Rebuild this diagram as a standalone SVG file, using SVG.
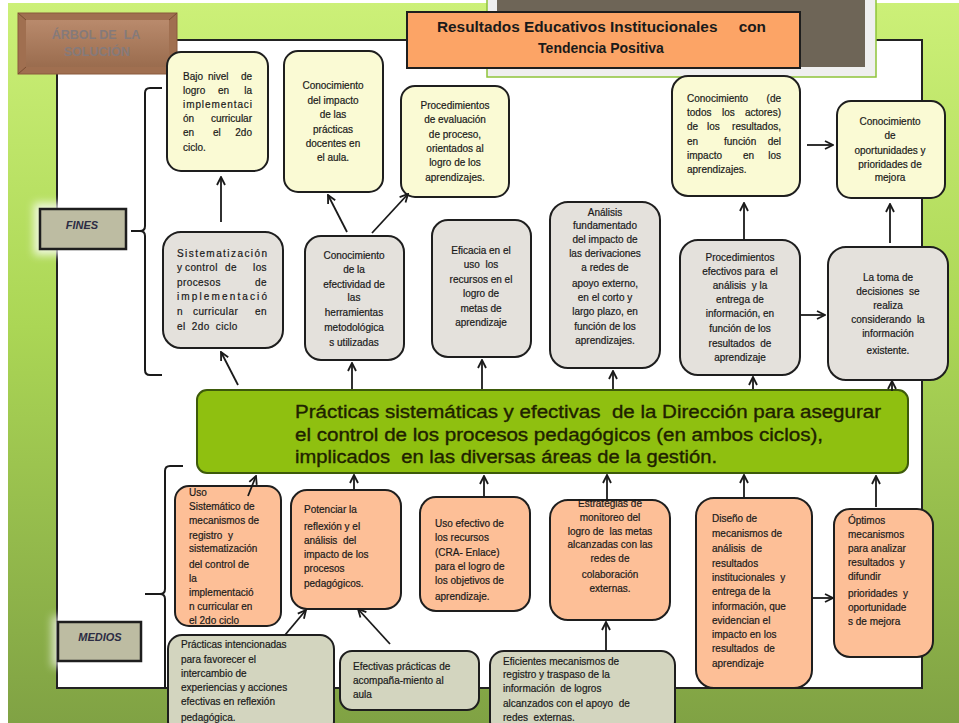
<svg xmlns="http://www.w3.org/2000/svg" width="959" height="723" viewBox="0 0 959 723">
<defs>
<linearGradient id="bg" x1="0" y1="0" x2="0" y2="1">
<stop offset="0" stop-color="#ccf078"/>
<stop offset="0.45" stop-color="#abd655"/>
<stop offset="1" stop-color="#80a244"/>
</linearGradient>
<linearGradient id="brn" x1="0" y1="0" x2="0" y2="1">
<stop offset="0" stop-color="#b98a6c"/>
<stop offset="1" stop-color="#9a6c4e"/>
</linearGradient>
<filter id="glow" x="-30%" y="-50%" width="160%" height="200%"><feGaussianBlur stdDeviation="4"/></filter>
<marker id="ah" viewBox="0 0 10 10" refX="9" refY="5" markerWidth="10" markerHeight="10" markerUnits="userSpaceOnUse" orient="auto">
<path d="M1,1 L9,5 L1,9" fill="none" stroke="#1a1a1a" stroke-width="1.8"/>
</marker>
<style>
.t{font-family:"Liberation Sans",Arial,sans-serif;font-size:10px;fill:#1a1a1a;stroke:#1a1a1a;stroke-width:0.2}
.c{text-anchor:middle}
.e{text-anchor:end}
.w{letter-spacing:0.4px}
.bx{stroke:#1e1e1e;stroke-width:2}
.yel{fill:#fafad4}
.gry{fill:#e4e1dc}
.sal{fill:#fdbf97}
.olv{fill:#d3d5bf}
.cn{fill:none;stroke:#1a1a1a;stroke-width:2}
.ar{fill:none;stroke:#1a1a1a;stroke-width:1.8;marker-end:url(#ah)}
.lbl{fill:#bdbca2;stroke:#1e1e1e;stroke-width:2.5}
.lt{font-family:"Liberation Sans",Arial,sans-serif;font-size:11px;font-weight:bold;font-style:italic;fill:#2c2c44;text-anchor:middle}
.gt{font-family:"Liberation Sans",Arial,sans-serif;font-size:17.5px;fill:#1f2200;stroke:#1f2200;stroke-width:0.35}
</style>
</defs>

<!-- background -->
<rect x="0" y="0" width="959" height="723" fill="#ffffff"/>
<rect x="8" y="3" width="951" height="720" fill="url(#bg)"/>
<rect x="57" y="40" width="865" height="648" fill="#ffffff" stroke="#222" stroke-width="2"/>

<!-- top frame -->
<rect x="487" y="-2" width="389" height="79" fill="#efefef" stroke="#8fc43a" stroke-width="1.5"/>
<rect x="497" y="0" width="368" height="67" fill="#6e6557"/>

<g id="title">
<rect x="407" y="12" width="393" height="56" fill="#fca466" stroke="#1e1e1e" stroke-width="2"/>
<text x="437" y="32" font-family="Liberation Sans,Arial,sans-serif" font-size="14" font-weight="bold" fill="#1a1a1a" textLength="329" lengthAdjust="spacingAndGlyphs" xml:space="preserve">Resultados Educativos Institucionales     con</text>
<text x="601" y="53" font-family="Liberation Sans,Arial,sans-serif" font-size="14" font-weight="bold" fill="#1a1a1a" text-anchor="middle">Tendencia Positiva</text>
</g>

<g id="arbol">
<rect x="18" y="13" width="159" height="61" fill="#a06f50" stroke="#8a5a3c" stroke-width="1"/>
<rect x="26" y="20" width="143" height="47" fill="url(#brn)"/>
<path d="M18,13 L26,20 M177,13 L169,20 M18,74 L26,67 M177,74 L169,67" stroke="#7a4e33" stroke-width="1"/>
<text x="96" y="39" font-family="Liberation Sans,Arial,sans-serif" font-size="12.5" font-weight="bold" fill="#857a7a" text-anchor="middle" xml:space="preserve">ÁRBOL DE  LA</text>
<text x="97" y="56" font-family="Liberation Sans,Arial,sans-serif" font-size="12.5" font-weight="bold" fill="#857a7a" text-anchor="middle">SOLUCIÓN</text>
</g>

<g id="fines">
<rect x="34" y="203" width="98" height="52" fill="#ffffff" opacity="0.8" filter="url(#glow)"/>
<rect x="40" y="209" width="86" height="40" class="lbl"/>
<text x="82" y="229" class="lt">FINES</text>
</g>
<g id="medios">
<rect x="52" y="616" width="95" height="51" fill="#ffffff" opacity="0.7" filter="url(#glow)"/>
<rect x="58" y="622" width="83" height="39" class="lbl"/>
<text x="100" y="641" class="lt">MEDIOS</text>
</g>

<!-- braces -->
<g id="braces">
<path class="cn" d="M162,88 L150,88 Q145,88 145,93 L145,226 Q145,231 140,231 L131,231 M140,231 Q145,231 145,236 L145,370 Q145,375 150,375 L162,375"/>
<path class="cn" d="M183,466 L170,466 Q165,466 165,471 L165,589 Q165,594 160,594 L145,594 M160,594 Q165,594 165,599 L165,688"/>
</g>

<!-- central green -->
<g id="centro">
<rect x="197" y="390" width="711" height="83" rx="10" fill="#8fc010" stroke="#3d5a0a" stroke-width="2"/>
<text class="gt" x="295" y="418" textLength="586" lengthAdjust="spacingAndGlyphs" xml:space="preserve">Prácticas sistemáticas y efectivas  de la Dirección para asegurar</text>
<text class="gt" x="295" y="441" textLength="528" lengthAdjust="spacingAndGlyphs">el control de los procesos pedagógicos (en ambos ciclos),</text>
<text class="gt" x="295" y="463" textLength="422" lengthAdjust="spacingAndGlyphs" xml:space="preserve">implicados  en las diversas áreas de la gestión.</text>
</g>

<!-- top row (yellow) -->
<g id="n1">
<rect x="167" y="52" width="101" height="119" rx="14" class="bx yel"/>
<text class="t" x="183" y="80">Bajo</text><text class="t" x="208" y="80">nivel</text><text class="t e" x="252" y="80">de</text>
<text class="t" x="183" y="94">logro</text><text class="t" x="218" y="94">en</text><text class="t e" x="252" y="94">la</text>
<text class="t" x="183" y="108" textLength="69" lengthAdjust="spacing">implementaci</text>
<text class="t" x="183" y="122">ón</text><text class="t e" x="252" y="122">curricular</text>
<text class="t" x="183" y="136">en</text><text class="t" x="213" y="136">el</text><text class="t e" x="252" y="136">2do</text>
<text class="t" x="183" y="151">ciclo.</text>
</g>
<g id="n2">
<rect x="284" y="51" width="99" height="141" rx="14" class="bx yel"/>
<text class="t c" x="333" y="89">Conocimiento</text>
<text class="t c" x="333" y="103.5">del impacto</text>
<text class="t c" x="333" y="118">de las</text>
<text class="t c" x="333" y="132.5">prácticas</text>
<text class="t c" x="333" y="147">docentes en</text>
<text class="t c" x="333" y="161">el aula.</text>
</g>
<g id="n3">
<rect x="401" y="86" width="108" height="111" rx="14" class="bx yel"/>
<text class="t c" x="455" y="108.5">Procedimientos</text>
<text class="t c" x="455" y="123">de evaluación</text>
<text class="t c" x="455" y="137.5">de proceso,</text>
<text class="t c" x="455" y="151.5">orientados al</text>
<text class="t c" x="455" y="166">logro de los</text>
<text class="t c" x="455" y="180.5">aprendizajes.</text>
</g>
<g id="n4">
<rect x="672" y="76" width="128" height="120" rx="16" class="bx yel"/>
<text class="t" x="687" y="101.5">Conocimiento</text><text class="t e" x="781" y="101.5">(de</text>
<text class="t" x="687" y="116">todos</text><text class="t" x="722" y="116">los</text><text class="t e" x="781" y="116">actores)</text>
<text class="t" x="687" y="130">de</text><text class="t" x="707" y="130">los</text><text class="t e" x="781" y="130">resultados,</text>
<text class="t" x="687" y="144.5">en</text><text class="t" x="724" y="144.5">función</text><text class="t e" x="781" y="144.5">del</text>
<text class="t" x="687" y="158.5">impacto</text><text class="t" x="743" y="158.5">en</text><text class="t e" x="781" y="158.5">los</text>
<text class="t" x="687" y="173">aprendizajes.</text>
</g>
<g id="n5">
<rect x="837" y="101" width="108" height="97" rx="14" class="bx yel"/>
<text class="t c" x="890" y="124.5">Conocimiento</text>
<text class="t c" x="890" y="139">de</text>
<text class="t c" x="890" y="153.5">oportunidades y</text>
<text class="t c" x="890" y="167.5">prioridades de</text>
<text class="t c" x="890" y="181">mejora</text>
</g>

<!-- second row (gray) -->
<g id="n6">
<rect x="163" y="232" width="120" height="116" rx="18" class="bx gry"/>
<text class="t" x="177" y="257" textLength="90" lengthAdjust="spacing">Sistematización</text>
<text class="t w" x="177" y="271">y</text><text class="t w" x="185" y="271">control</text><text class="t w" x="225" y="271">de</text><text class="t w e" x="267" y="271">los</text>
<text class="t w" x="177" y="285.5">procesos</text><text class="t w e" x="267" y="285.5">de</text>
<text class="t" x="177" y="300" textLength="90" lengthAdjust="spacing">implementació</text>
<text class="t w" x="177" y="315">n</text><text class="t w" x="193" y="315">curricular</text><text class="t w e" x="267" y="315">en</text>
<text class="t w" x="177" y="329.5" word-spacing="3">el 2do ciclo</text>
</g>
<g id="n7">
<rect x="305" y="236" width="99" height="124" rx="16" class="bx gry"/>
<text class="t c" x="354" y="258.5">Conocimiento</text>
<text class="t c" x="354" y="272.5">de la</text>
<text class="t c" x="354" y="287.5">efectividad de</text>
<text class="t c" x="354" y="301">las</text>
<text class="t c" x="354" y="315.5">herramientas</text>
<text class="t c" x="354" y="330.5">metodológica</text>
<text class="t c" x="354" y="345.5">s utilizadas</text>
</g>
<g id="n8">
<rect x="432" y="220" width="99" height="137" rx="16" class="bx gry"/>
<text class="t c" x="481" y="253.5">Eficacia en el</text>
<text class="t c" x="481" y="268" xml:space="preserve">uso  los</text>
<text class="t c" x="481" y="282.5">recursos en el</text>
<text class="t c" x="481" y="297">logro de</text>
<text class="t c" x="481" y="311.5">metas de</text>
<text class="t c" x="481" y="325.5">aprendizaje</text>
</g>
<g id="n9">
<rect x="550" y="202" width="110" height="166" rx="18" class="bx gry"/>
<text class="t c" x="605" y="215.5">Análisis</text>
<text class="t c" x="605" y="229">fundamentado</text>
<text class="t c" x="605" y="243">del impacto de</text>
<text class="t c" x="605" y="257">las derivaciones</text>
<text class="t c" x="605" y="271">a redes de</text>
<text class="t c" x="605" y="287">apoyo externo,</text>
<text class="t c" x="605" y="301">en el corto y</text>
<text class="t c" x="605" y="315">largo plazo, en</text>
<text class="t c" x="605" y="329.5">función de los</text>
<text class="t c" x="605" y="343.5">aprendizajes.</text>
</g>
<g id="n10">
<rect x="680" y="240" width="120" height="135" rx="18" class="bx gry"/>
<text class="t c" x="740" y="260.5">Procedimientos</text>
<text class="t c" x="740" y="275" xml:space="preserve">efectivos para  el</text>
<text class="t c" x="740" y="289" xml:space="preserve">análisis  y la</text>
<text class="t c" x="740" y="303">entrega de</text>
<text class="t c" x="740" y="317">información, en</text>
<text class="t c" x="740" y="332">función de los</text>
<text class="t c" x="740" y="346.5" xml:space="preserve">resultados  de</text>
<text class="t c" x="740" y="360.5">aprendizaje</text>
</g>
<g id="n11">
<rect x="828" y="247" width="120" height="133" rx="18" class="bx gry"/>
<text class="t c" x="888" y="280.5">La toma de</text>
<text class="t c" x="888" y="294.5" xml:space="preserve">decisiones  se</text>
<text class="t c" x="888" y="308.5">realiza</text>
<text class="t c" x="888" y="322.5" xml:space="preserve">considerando  la</text>
<text class="t c" x="888" y="336.5">información</text>
<text class="t c" x="888" y="353.5">existente.</text>
</g>

<!-- bottom row (salmon) -->
<g id="n12">
<rect x="175" y="486" width="106" height="140" rx="14" class="bx sal"/>
<text class="t" x="189" y="495.5">Uso</text>
<text class="t" x="189" y="509.5">Sistemático de</text>
<text class="t" x="189" y="523.5">mecanismos de</text>
<text class="t" x="189" y="538.5" xml:space="preserve">registro  y</text>
<text class="t" x="189" y="551.5">sistematización</text>
<text class="t" x="189" y="567.5">del control de</text>
<text class="t" x="189" y="581.5">la</text>
<text class="t" x="189" y="595.5">implementació</text>
<text class="t" x="189" y="609.5">n curricular en</text>
<text class="t" x="189" y="623.5">el 2do ciclo</text>
</g>
<g id="n13">
<rect x="291" y="490" width="110" height="119" rx="16" class="bx sal"/>
<text class="t" x="304" y="512.5">Potenciar la</text>
<text class="t" x="304" y="529.5">reflexión y el</text>
<text class="t" x="304" y="543.5" xml:space="preserve">análisis  del</text>
<text class="t" x="304" y="557.5">impacto de los</text>
<text class="t" x="304" y="571.5">procesos</text>
<text class="t" x="304" y="586.5">pedagógicos.</text>
</g>
<g id="n14">
<rect x="420" y="497" width="110" height="114" rx="16" class="bx sal"/>
<text class="t" x="435" y="526.5">Uso efectivo de</text>
<text class="t" x="435" y="540.5">los recursos</text>
<text class="t" x="435" y="555.5">(CRA- Enlace)</text>
<text class="t" x="435" y="569.5">para el logro de</text>
<text class="t" x="435" y="583.5">los objetivos de</text>
<text class="t" x="435" y="599.5">aprendizaje.</text>
</g>
<g id="n15">
<rect x="550" y="500" width="120" height="120" rx="18" class="bx sal"/>
<text class="t c" x="610" y="506.5">Estrategias de</text>
<text class="t c" x="610" y="520.5">monitoreo del</text>
<text class="t c" x="610" y="534.5" xml:space="preserve">logro de  las metas</text>
<text class="t c" x="610" y="547.5">alcanzadas con las</text>
<text class="t c" x="610" y="561.5">redes de</text>
<text class="t c" x="610" y="577.5">colaboración</text>
<text class="t c" x="610" y="591.5">externas.</text>
</g>
<g id="n16">
<rect x="696" y="498" width="116" height="190" rx="18" class="bx sal"/>
<text class="t" x="712" y="521.5">Diseño de</text>
<text class="t" x="712" y="536.5">mecanismos de</text>
<text class="t" x="712" y="551.5" xml:space="preserve">análisis  de</text>
<text class="t" x="712" y="566.5">resultados</text>
<text class="t" x="712" y="580.5" xml:space="preserve">institucionales  y</text>
<text class="t" x="712" y="594.5">entrega de la</text>
<text class="t" x="712" y="609.5">información, que</text>
<text class="t" x="712" y="623.5">evidencian el</text>
<text class="t" x="712" y="637.5">impacto en los</text>
<text class="t" x="712" y="651.5" xml:space="preserve">resultados  de</text>
<text class="t" x="712" y="666.5">aprendizaje</text>
</g>
<g id="n17">
<rect x="834" y="509" width="99" height="148" rx="16" class="bx sal"/>
<text class="t" x="848" y="523.5">Óptimos</text>
<text class="t" x="848" y="537.5">mecanismos</text>
<text class="t" x="848" y="551.5">para analizar</text>
<text class="t" x="848" y="565.5" xml:space="preserve">resultados  y</text>
<text class="t" x="848" y="579.5">difundir</text>
<text class="t" x="848" y="596.5" xml:space="preserve">prioridades  y</text>
<text class="t" x="848" y="610.5">oportunidade</text>
<text class="t" x="848" y="624.5">s de mejora</text>
</g>

<!-- bottom olive boxes -->
<g id="n18">
<rect x="168" y="635" width="166" height="100" rx="14" class="bx olv"/>
<text class="t" x="181" y="647.5">Prácticas intencionadas</text>
<text class="t" x="181" y="662.5">para favorecer el</text>
<text class="t" x="181" y="676.5">intercambio de</text>
<text class="t" x="181" y="690.5">experiencias y acciones</text>
<text class="t" x="181" y="704.5">efectivas en reflexión</text>
<text class="t" x="181" y="720.5">pedagógica.</text>
</g>
<g id="n19">
<rect x="340" y="651" width="139" height="59" rx="12" class="bx olv"/>
<text class="t" x="353" y="669.5">Efectivas prácticas de</text>
<text class="t" x="353" y="683.5">acompaña-miento al</text>
<text class="t" x="353" y="697.5">aula</text>
</g>
<g id="n20">
<rect x="490" y="651" width="185" height="84" rx="14" class="bx olv"/>
<text class="t" x="503" y="664.5">Eficientes mecanismos de</text>
<text class="t" x="503" y="677.5">registro y traspaso de la</text>
<text class="t" x="503" y="691.5" xml:space="preserve">información  de logros</text>
<text class="t" x="503" y="706.5" xml:space="preserve">alcanzados con el apoyo  de</text>
<text class="t" x="503" y="720.5" xml:space="preserve">redes  externas.</text>
</g>

<!-- connectors -->
<g id="connectors">
<path class="ar" d="M221,222 L221,177"/>
<path class="ar" d="M347,232 L328,195"/>
<path class="ar" d="M372,233 L408,194"/>
<path class="ar" d="M744,240 L744,203"/>
<path class="ar" d="M890,243 L890,204"/>
<path class="ar" d="M800,315 L825,315"/>
<path class="ar" d="M807,145 L833,145"/>
<path class="ar" d="M238,385 L221,352"/>
<path class="ar" d="M352,389 L352,363"/>
<path class="ar" d="M482,389 L482,360"/>
<path class="ar" d="M613,389 L613,371"/>
<path class="ar" d="M753,389 L753,377"/>
<path class="ar" d="M892,391 L892,381"/>
<path class="ar" d="M248,496 L256,476"/>
<path class="ar" d="M354,490 L354,475"/>
<path class="ar" d="M484,497 L484,476"/>
<path class="ar" d="M607,500 L607,475"/>
<path class="ar" d="M744,498 L744,475"/>
<path class="ar" d="M876,507 L876,476"/>
<path class="ar" d="M812,598 L833,598"/>
<path class="ar" d="M285,635 L306,610"/>
<path class="ar" d="M390,644 L358,609"/>
<path class="ar" d="M606,651 L606,622"/>
</g>
</svg>
